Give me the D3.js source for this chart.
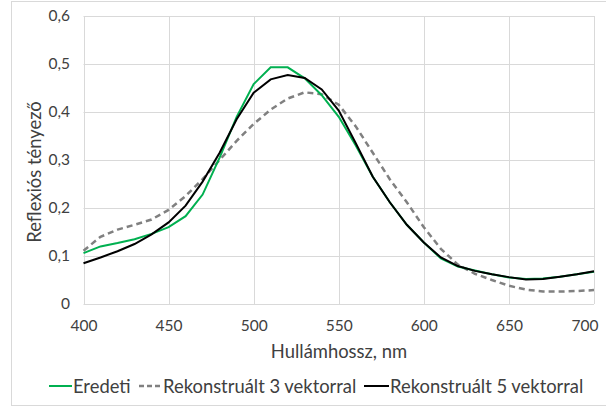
<!DOCTYPE html>
<html><head><meta charset="utf-8">
<script src="https://cdn.jsdelivr.net/npm/d3@7"></script>
<style>body{margin:0;background:#fff}svg{display:block}text{font-family:Lato,"Open Sans",sans-serif;fill:#404040}</style>
</head><body><svg id="c" width="606" height="407"></svg>
<script>
const wavelengths = [400,410,420,430,440,450,460,470,480,490,500,510,520,530,540,550,560,570,580,590,600,610,620,630,640,650,660,670,680,690,700];
const eredeti = [0.106,0.120,0.127,0.135,0.146,0.160,0.183,0.228,0.305,0.390,0.458,0.493,0.493,0.470,0.435,0.390,0.330,0.265,0.212,0.165,0.128,0.095,0.078,0.070,0.062,0.055,0.052,0.053,0.057,0.062,0.067];
const rek3 = [0.111,0.140,0.155,0.165,0.176,0.196,0.225,0.260,0.300,0.340,0.375,0.405,0.428,0.441,0.437,0.415,0.370,0.315,0.260,0.212,0.160,0.115,0.082,0.063,0.050,0.038,0.030,0.026,0.026,0.027,0.029];
const rek5 = [0.085,0.097,0.110,0.125,0.145,0.170,0.205,0.255,0.315,0.385,0.440,0.468,0.477,0.471,0.447,0.403,0.335,0.265,0.212,0.165,0.128,0.097,0.079,0.069,0.062,0.056,0.051,0.052,0.057,0.062,0.068];
const xTicks = [400,450,500,550,600,650,700];
const yTicks = [0,0.1,0.2,0.3,0.4,0.5,0.6];
const seriesNames = ["Eredeti","Rekonstruált 3 vektorral","Rekonstruált 5 vektorral"];
const xTitle = "Hullámhossz, nm", yTitle = "Reflexiós tényező";

const svg = d3.select("#c");
svg.append("rect").attr("x",11.5).attr("y",1.5).attr("width",600).attr("height",404).attr("fill","#fff").attr("stroke","#d9d9d9");
const x = d3.scaleLinear().domain([400,700]).range([83.5,594]);
const y = d3.scaleLinear().domain([0,0.6]).range([304,16]);
const fmt = d => d===0 ? "0" : d3.format(".1f")(d).replace(".",",");

svg.append("g").selectAll("line").data(yTicks).join("line")
  .attr("x1",x(400)).attr("x2",x(700)).attr("y1",d=>Math.round(y(d))+0.5).attr("y2",d=>Math.round(y(d))+0.5)
  .attr("stroke","#d9d9d9");
svg.append("g").selectAll("line").data(xTicks).join("line")
  .attr("y1",y(0)).attr("y2",y(0.6)).attr("x1",d=>Math.round(x(d))+0.5).attr("x2",d=>Math.round(x(d))+0.5)
  .attr("stroke","#d9d9d9");

const xa = svg.append("g").attr("transform",`translate(0,${y(0)})`).call(d3.axisBottom(x).tickValues(xTicks).tickSize(0).tickPadding(16).tickFormat(d3.format("d")));
xa.select(".domain").remove();
xa.selectAll("text").style("font-size","15.5px").attr("fill","#404040");
xa.selectAll(".tick").filter(d=>d===700).select("text").attr("text-anchor","end").attr("x",598-x(700));
const ya = svg.append("g").attr("transform",`translate(70,0)`).call(d3.axisLeft(y).tickValues(yTicks).tickSize(0).tickPadding(0).tickFormat(fmt));
ya.select(".domain").remove();
ya.selectAll("text").style("font-size","15.5px").attr("fill","#404040");

svg.append("text").attr("x",339).attr("y",358).attr("text-anchor","middle").style("font-size","18.4px").text(xTitle);
svg.append("text").attr("transform","translate(41,172) rotate(-90)").attr("text-anchor","middle").style("font-size","18.4px").text(yTitle);

const line = d3.line().x((d,i)=>x(wavelengths[i])).y(d=>y(d));
svg.append("path").datum(rek3).attr("d",line).attr("fill","none").attr("stroke","#808080").attr("stroke-width",2.5).attr("stroke-dasharray","6,4");
svg.append("path").datum(eredeti).attr("d",line).attr("fill","none").attr("stroke","#00b050").attr("stroke-width",2);
svg.append("path").datum(rek5).attr("d",line).attr("fill","none").attr("stroke","#000").attr("stroke-width",2);

const leg = [
  {name:seriesNames[0], x1:49, x2:72, color:"#00b050", dash:null, w:2},
  {name:seriesNames[1], x1:139, x2:162, color:"#808080", dash:"5,3", w:2.5},
  {name:seriesNames[2], x1:364, x2:389, color:"#000", dash:null, w:2}
];
const lg = svg.append("g");
leg.forEach(l=>{
  lg.append("line").attr("x1",l.x1).attr("x2",l.x2).attr("y1",386).attr("y2",386).attr("stroke",l.color).attr("stroke-width",l.w).attr("stroke-dasharray",l.dash);
  lg.append("text").attr("x",l.x2+1).attr("y",392.5).style("font-size","18.4px").text(l.name);
});
</script></body></html>
